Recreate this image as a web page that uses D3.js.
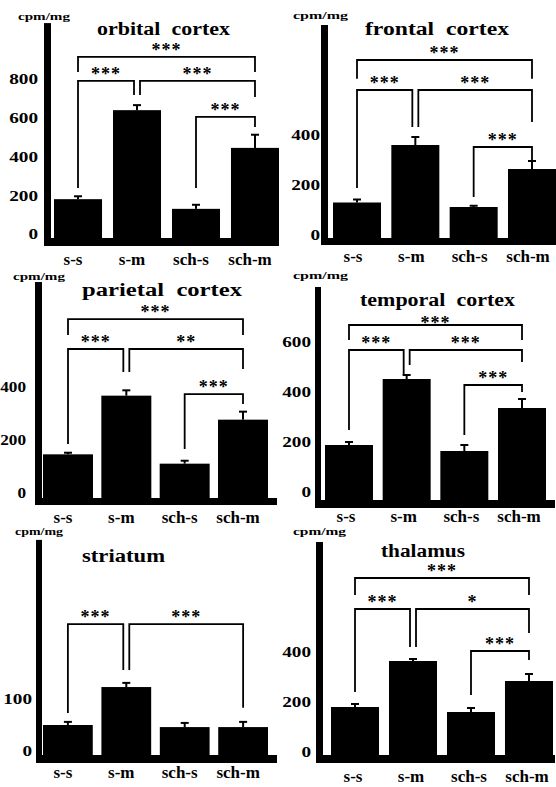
<!DOCTYPE html>
<html><head><meta charset="utf-8">
<script src="https://cdn.jsdelivr.net/npm/d3@7"></script>
<style>body{margin:0;background:#fff}svg{display:block}</style>
</head><body>
<svg id="c" width="556" height="787"></svg>
<script>
// ---------- data ----------
const categories = ["s-s", "s-m", "sch-s", "sch-m"];
const regions = ["orbital  cortex", "frontal  cortex", "parietal  cortex", "temporal  cortex", "striatum", "thalamus"];
const unitLabel = "cpm/mg";

const orbitalMeans  = [180, 640, 130, 445];
const orbitalSEM    = [15, 26, 21, 68];
const frontalMeans  = [130, 360, 112, 264];
const frontalSEM    = [12, 32, 5, 32];
const parietalMeans = [145, 365, 110, 275];
const parietalSEM   = [6, 20, 11, 30];
const temporalMeans = [188, 452, 164, 336];
const temporalSEM   = [12, 16, 24, 36];
const striatumMeans = [50, 123, 46, 46];
const striatumSEM   = [6, 8, 8, 10];
const thalamusMeans = [180, 364, 160, 284];
const thalamusSEM   = [12, 8, 16, 28];

const orbitalTicks  = [0, 200, 400, 600, 800];
const frontalTicks  = [0, 200, 400];
const parietalTicks = [0, 200, 400];
const temporalTicks = [0, 200, 400, 600];
const striatumTicks = [0, 100];
const thalamusTicks = [0, 200, 400];

// significance brackets: [from, to, bracket level, leg end at from, leg end at to, stars]  (data units)
const orbitalSig  = [["s-s","sch-m",915,837,837,"***"],["s-s","s-m",791,238,718,"***"],["s-m","sch-m",791,718,708,"***"],["sch-s","sch-m",605,238,553,"***"]];
const frontalSig  = [["s-s","sch-m",700,625,625,"***"],["s-s","s-m",580,188,432,"***"],["s-m","sch-m",580,432,452,"***"],["sch-s","sch-m",352,152,300,"***"]];
const parietalSig = [["s-s","sch-m",652,592,592,"***"],["s-s","s-m",540,184,454,"***"],["s-m","sch-m",540,454,465,"**"],["sch-s","sch-m",371,165,334,"***"]];
const temporalSig = [["s-s","sch-m",668,608,608,"***"],["s-s","s-m",568,248,468,"***"],["s-m","sch-m",568,508,520,"***"],["sch-s","sch-m",428,228,400,"***"]];
const striatumSig = [["s-s","s-m",244,73,156,"***"],["s-m","sch-m",244,156,83,"***"]];
const thalamusSig = [["s-s","sch-m",696,628,628,"***"],["s-s","s-m",572,240,420,"***"],["s-m","sch-m",572,420,476,"*"],["sch-s","sch-m",404,228,368,"***"]];

// ---------- layout (pixels) ----------
const layout = [
  {bx:[54,279], pad:0.186, y0:234, k:0.1935, top:1090, axisX:[44,51], base:[4,12], xEnd:279, tickRight:38, digitW:9.6, lShift:-5, lBase:265, title:[97,133,35], unit:[18,52,20], topStarDy:-1},
  {bx:[333,556], pad:0.177, y0:235, k:0.25, top:840, axisX:[321,328], base:[3,10], xEnd:556, tickRight:320, digitW:9.6, lShift:-4, lBase:262, title:[365,144,35], unit:[293,55,19], topStarDy:-1},
  {bx:[43,268], pad:0.143, y0:493, k:0.2667, top:791, axisX:[35,42], base:[5,12], xEnd:277, tickRight:26, digitW:8.6, lShift:-5, lBase:523, title:[82,160,296], unit:[13,52,280], topStarDy:-1},
  {bx:[325,546], pad:0.168, y0:492, k:0.25, top:820, axisX:[315,321], base:[8,16], xEnd:555, tickRight:311, digitW:9.6, lShift:-3, lBase:522, title:[360,155,306], unit:[293,55,279], topStarDy:4},
  {bx:[43,268], pad:0.148, y0:751, k:0.52, top:406, axisX:[36,42], base:[4,12], xEnd:277, tickRight:32, digitW:9.6, lShift:-5, lBase:778, title:[82,83,562], unit:[15,48,535], topStarDy:-1},
  {bx:[331,553], pad:0.172, y0:752, k:0.25, top:840, axisX:[316,323], base:[3,11], xEnd:555, tickRight:311, digitW:9.6, lShift:-2, lBase:782, title:[381,84,557], unit:[293,53,535], topStarDy:-1}
];

const panels = [
  {name:regions[0], means:orbitalMeans,  sem:orbitalSEM,  ticks:orbitalTicks,  sig:orbitalSig},
  {name:regions[1], means:frontalMeans,  sem:frontalSEM,  ticks:frontalTicks,  sig:frontalSig},
  {name:regions[2], means:parietalMeans, sem:parietalSEM, ticks:parietalTicks, sig:parietalSig},
  {name:regions[3], means:temporalMeans, sem:temporalSEM, ticks:temporalTicks, sig:temporalSig},
  {name:regions[4], means:striatumMeans, sem:striatumSEM, ticks:striatumTicks, sig:striatumSig},
  {name:regions[5], means:thalamusMeans, sem:thalamusSEM, ticks:thalamusTicks, sig:thalamusSig}
];

const FONT = "'Liberation Serif', 'Times New Roman', serif";
const svg = d3.select("#c");

panels.forEach((p, pi) => {
  const L = layout[pi];
  const g = svg.append("g");
  const x = d3.scaleBand().domain(categories).range(L.bx).paddingInner(L.pad).paddingOuter(0);
  const y = d3.scaleLinear().domain([0, L.top]).range([L.y0, L.y0 - L.top * L.k]);
  const bw = x.bandwidth();
  const cx = c => x(c) + bw / 2;
  const baseTop = L.y0 + L.base[0];

  // bars
  g.selectAll("rect.bar").data(p.means).join("rect").attr("class", "bar")
    .attr("x", (d, i) => x(categories[i])).attr("width", bw)
    .attr("y", d => y(d)).attr("height", d => baseTop - y(d) + 1)
    .attr("fill", "#000");

  // error bars
  const eg = g.append("g").attr("stroke", "#000").attr("stroke-width", 2);
  p.means.forEach((m, i) => {
    const xc = cx(categories[i]);
    eg.append("line").attr("x1", xc).attr("x2", xc).attr("y1", y(m)).attr("y2", y(m + p.sem[i]));
    eg.append("line").attr("x1", xc - 4).attr("x2", xc + 4).attr("y1", y(m + p.sem[i])).attr("y2", y(m + p.sem[i]));
  });

  // axes (thick bars)
  g.append("rect").attr("x", L.axisX[0]).attr("y", baseTop)
    .attr("width", L.xEnd - L.axisX[0]).attr("height", L.base[1] - L.base[0]).attr("fill", "#000");
  g.append("rect").attr("x", L.axisX[0]).attr("y", y(L.top))
    .attr("width", L.axisX[1] - L.axisX[0]).attr("height", L.y0 + L.base[1] - y(L.top)).attr("fill", "#000");

  // y tick labels
  const ya = g.append("g").attr("transform", `translate(${L.tickRight},0)`)
    .call(d3.axisLeft(y).tickValues(p.ticks).tickSize(0).tickPadding(0).tickFormat(d3.format("d")));
  ya.select(".domain").remove();
  ya.attr("font-family", FONT).attr("font-size", 14).attr("font-weight", "bold");
  ya.selectAll("text").attr("fill", "#000").attr("dy", "0.34em")
    .attr("textLength", d => String(d).length * L.digitW).attr("lengthAdjust", "spacingAndGlyphs");

  // x category labels
  const xa = g.append("g").attr("transform", `translate(${L.lShift},${L.lBase})`)
    .call(d3.axisBottom(x).tickSize(0).tickPadding(0));
  xa.select(".domain").remove();
  xa.attr("font-family", FONT).attr("font-size", 17).attr("font-weight", "bold");
  xa.selectAll("text").attr("fill", "#000").attr("y", 0).attr("dy", 0);

  // significance brackets
  const bg = g.append("g");
  const topLevel = d3.max(p.sig, s => s[2]);
  p.sig.forEach(s => {
    const [from, to, lev, legA, legB, stars] = s;
    const offA = p.sig.some(o => o !== s && o[2] === lev && o[1] === from) ? 3 : 0;
    const offB = p.sig.some(o => o !== s && o[2] === lev && o[0] === to) ? -3 : 0;
    const xa1 = cx(from) + offA, xb1 = cx(to) + offB;
    bg.append("path")
      .attr("d", `M${xa1},${y(legA)}V${y(lev)}H${xb1}V${y(legB)}`)
      .attr("fill", "none").attr("stroke", "#000").attr("stroke-width", 1.8);
    const dy = (lev === topLevel && p.sig.length > 2) ? L.topStarDy : -1;
    bg.append("text").attr("x", (xa1 + xb1) / 2).attr("y", y(lev) + dy)
      .attr("text-anchor", "middle").attr("font-family", FONT).attr("font-weight", "bold")
      .attr("font-size", 18).attr("letter-spacing", 1).attr("fill", "#000").text(stars);
  });

  // title
  g.append("text").attr("x", L.title[0]).attr("y", L.title[2])
    .attr("font-family", FONT).attr("font-weight", "bold").attr("font-size", 18)
    .attr("textLength", L.title[1]).attr("lengthAdjust", "spacingAndGlyphs")
    .attr("xml:space", "preserve").attr("fill", "#000").text(p.name);

  // unit label
  g.append("text").attr("x", L.unit[0]).attr("y", L.unit[2])
    .attr("font-family", FONT).attr("font-weight", "bold").attr("font-size", 11)
    .attr("textLength", L.unit[1]).attr("lengthAdjust", "spacingAndGlyphs")
    .attr("fill", "#000").text(unitLabel);
});
</script>
</body></html>
